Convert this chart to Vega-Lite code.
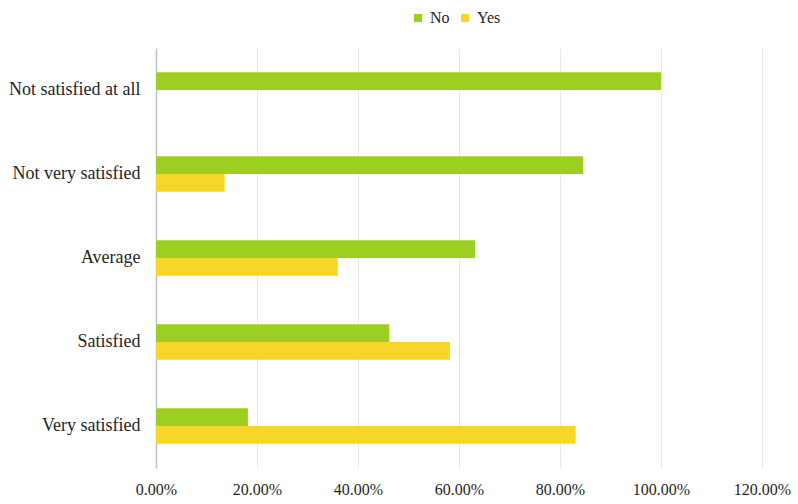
{
  "$schema": "https://vega.github.io/schema/vega-lite/v6.json",
  "width": 606,
  "height": 420,
  "autosize": {"type": "none"},
  "padding": {"left": 156, "top": 48, "right": 36, "bottom": 36},
  "background": "white",
  "config": {
    "view": {"stroke": null}
  },
  "data": {
    "values": [
      {"category": "Not satisfied at all", "series": "No", "value": 1.0},
      {"category": "Not satisfied at all", "series": "Yes", "value": 0.0},
      {"category": "Not very satisfied", "series": "No", "value": 0.846},
      {"category": "Not very satisfied", "series": "Yes", "value": 0.136},
      {"category": "Average", "series": "No", "value": 0.632},
      {"category": "Average", "series": "Yes", "value": 0.360},
      {"category": "Satisfied", "series": "No", "value": 0.462},
      {"category": "Satisfied", "series": "Yes", "value": 0.582},
      {"category": "Very satisfied", "series": "No", "value": 0.182},
      {"category": "Very satisfied", "series": "Yes", "value": 0.831}
    ]
  },
  "mark": {"type": "bar"},
  "encoding": {
    "y": {
      "field": "category",
      "type": "nominal",
      "sort": ["Not satisfied at all", "Not very satisfied", "Average", "Satisfied", "Very satisfied"],
      "scale": {"paddingInner": 0.58, "paddingOuter": 0.29},
      "axis": {"title": null, "domain": true, "domainColor": "#bfbfbf", "domainWidth": 1.5, "ticks": false, "labelPadding": 16, "labelFont": "Liberation Serif", "labelFontSize": 18, "labelColor": "#262626"}
    },
    "yOffset": {"field": "series", "type": "nominal", "sort": ["No", "Yes"]},
    "x": {
      "field": "value",
      "type": "quantitative",
      "scale": {"domain": [0, 1.2], "nice": false},
      "axis": {"title": null, "format": ".2%", "values": [0, 0.2, 0.4, 0.6, 0.8, 1.0, 1.2], "domain": false, "ticks": false, "grid": true, "gridColor": "#e8e8e8", "labelPadding": 13, "labelFlush": false, "labelFont": "Liberation Serif", "labelFontSize": 16, "labelColor": "#262626"}
    },
    "color": {
      "field": "series",
      "type": "nominal",
      "scale": {"domain": ["No", "Yes"], "range": ["#9ccf22", "#f7d62a"]},
      "legend": {"title": null, "orient": "none", "direction": "horizontal", "legendX": 254, "legendY": -38, "symbolType": "square", "symbolSize": 64, "symbolStrokeWidth": 0, "columnPadding": 7, "labelOffset": 4, "labelFont": "Liberation Serif", "labelFontSize": 16, "labelColor": "#262626"}
    }
  }
}
